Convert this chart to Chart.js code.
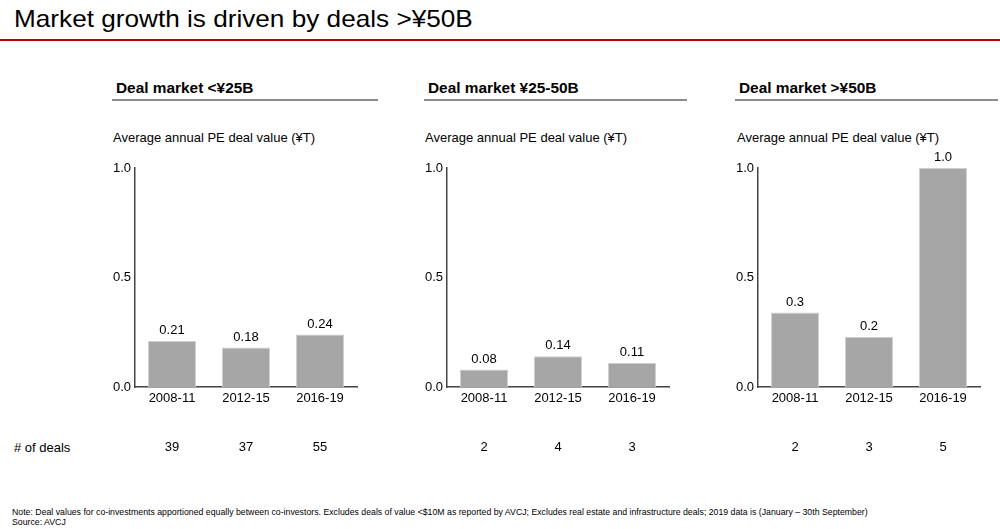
<!DOCTYPE html>
<html lang="en">
<head>
<meta charset="UTF-8">
<title>Market growth is driven by deals >¥50B</title>
<script src="https://cdn.jsdelivr.net/npm/chart.js@4"></script>
<style>
  * { margin: 0; padding: 0; box-sizing: border-box; }
  body { width: 1000px; height: 529px; background: #fff; font-family: 'Liberation Sans', Arial, sans-serif; color: #000; position: relative; overflow: hidden; }
  .title { position: absolute; left: 14px; top: 5px; font-size: 24px; white-space: nowrap; transform: scaleX(1.09); transform-origin: left top; }
  .redline { position: absolute; left: 0; top: 39px; width: 1000px; height: 2px; background: #c00000; }
  .head { position: absolute; top: 80px; font-size: 14px; font-weight: 700; white-space: nowrap; transform: scaleX(1.1); transform-origin: left top; }
  .rule { position: absolute; height: 2px; background: #8c8c8c; }
  .sub { position: absolute; top: 130px; font-size: 13px; white-space: nowrap; }
  .wrap { position: absolute; top: 150px; height: 310px; }
  .deals { position: absolute; left: 14px; top: 440px; font-size: 13px; }
  .note { position: absolute; left: 12px; font-size: 9.5px; white-space: nowrap; transform: scaleX(0.92); transform-origin: left top; }
</style>
</head>
<body>
<div class="title">Market growth is driven by deals &gt;¥50B</div>
<div class="redline"></div>

<div id="panels"></div>
<div class="deals"># of deals</div>
<div class="note" style="top:506px">Note: Deal values for co-investments apportioned equally between co-investors. Excludes deals of value &lt;$10M as reported by AVCJ; Excludes real estate and infrastructure deals; 2019 data is (January – 30th September)</div>
<div class="note" style="top:516px">Source: AVCJ</div>

<script>
// Data
const categories = ['2008-11', '2012-15', '2016-19'];
const panelTitles = ['Deal market <¥25B', 'Deal market ¥25-50B', 'Deal market >¥50B'];
const subtitle = 'Average annual PE deal value (¥T)';
const valuesUnder25 = [0.21, 0.18, 0.24];
const values25to50 = [0.08, 0.14, 0.11];
const valuesOver50 = [0.34, 0.23, 1.0];
const dealsUnder25 = [39, 37, 55];
const deals25to50 = [2, 4, 3];
const dealsOver50 = [2, 3, 5];
const labelDecimals = [2, 2, 1];
const yTicks = [0, 0.5, 1.0];

const panelValues = [valuesUnder25, values25to50, valuesOver50];
const panelDeals = [dealsUnder25, deals25to50, dealsOver50];

// layout of each panel (left of canvas, header x, rule span)
const layout = [
  { left: 100, head: 116, ruleL: 112, ruleR: 378, sub: 113 },
  { left: 412, head: 428, ruleL: 424, ruleR: 687, sub: 425 },
  { left: 723, head: 739, ruleL: 735, ruleR: 998, sub: 737 },
];

const FONT = "'Liberation Sans', Arial, sans-serif";
Chart.defaults.font.family = FONT;
Chart.defaults.color = '#000';

const labelPlugin = {
  id: 'labels',
  afterDatasetsDraw(chart, args, opts) {
    const ctx = chart.ctx;
    const meta = chart.getDatasetMeta(0);
    ctx.save();
    ctx.font = '13px ' + FONT;
    ctx.fillStyle = '#000';
    ctx.textAlign = 'center';
    ctx.textBaseline = 'bottom';
    meta.data.forEach((bar, i) => {
      const v = chart.data.datasets[0].data[i];
      ctx.fillText(v.toFixed(opts.decimals), bar.x, bar.y - 4);
    });
    // deal counts row
    ctx.textBaseline = 'middle';
    opts.deals.forEach((d, i) => {
      ctx.fillText(String(d), chart.scales.x.getPixelForValue(i), 297);
    });
    ctx.restore();
  }
};

const panels = document.getElementById('panels');
layout.forEach((p, k) => {
  panels.insertAdjacentHTML('beforeend',
    `<div class="head" style="left:${p.head}px"></div>` +
    `<div class="rule" style="left:${p.ruleL}px;width:${p.ruleR - p.ruleL}px;top:99px"></div>` +
    `<div class="sub" style="left:${p.sub}px"></div>` +
    `<div class="wrap" style="left:${p.left}px;width:262px"><canvas id="c${k}"></canvas></div>`);
  const heads = panels.querySelectorAll('.head');
  heads[heads.length - 1].textContent = panelTitles[k];
  const subs = panels.querySelectorAll('.sub');
  subs[subs.length - 1].textContent = subtitle;

  new Chart(document.getElementById('c' + k), {
    type: 'bar',
    data: {
      labels: categories,
      datasets: [{
        data: panelValues[k],
        backgroundColor: '#a6a6a6',
        borderColor: '#d0d0d0',
        borderWidth: 1,
        barPercentage: 0.65,
        categoryPercentage: 1.0,
      }]
    },
    options: {
      responsive: true,
      maintainAspectRatio: false,
      animation: false,
      layout: { padding: { top: 18, right: 5, left: 0, bottom: 0 } },
      plugins: {
        legend: { display: false },
        tooltip: { enabled: false },
        labels: { decimals: labelDecimals[k], deals: panelDeals[k] },
      },
      scales: {
        x: {
          grid: { display: false, drawTicks: false },
          border: { display: true, color: '#444', width: 1.5 },
          ticks: { padding: 4, font: { size: 13 }, color: '#000' },
          afterFit: s => { s.height = 73; },
        },
        y: {
          min: 0, max: 1,
          grid: { display: false, drawTicks: false },
          border: { display: true, color: '#444', width: 1.5 },
          afterBuildTicks: s => { s.ticks = yTicks.map(v => ({ value: v })); },
          ticks: { padding: 4, font: { size: 13 }, color: '#000', callback: v => v.toFixed(1) },
          afterFit: s => { s.width = 35; },
        }
      }
    },
    plugins: [labelPlugin]
  });
});
</script>
</body>
</html>
